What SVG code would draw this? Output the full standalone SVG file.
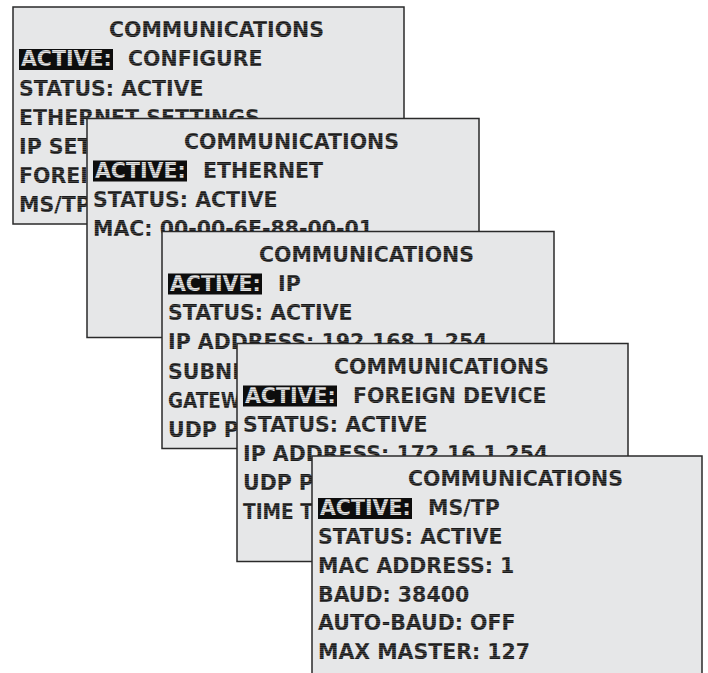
<svg xmlns="http://www.w3.org/2000/svg" width="708" height="673" viewBox="0 0 708 673">
<defs>
<pattern id="scan" patternUnits="userSpaceOnUse" width="4" height="2">
<rect width="4" height="2" fill="#1a1a1a"/>
<rect y="1.25" width="4" height="0.75" fill="#555555"/>
</pattern>
<pattern id="scanLight" patternUnits="userSpaceOnUse" width="4" height="2">
<rect width="4" height="2" fill="#e4e4e4"/>
<rect y="1.25" width="4" height="0.75" fill="#9a9a9a"/>
</pattern>
</defs>
<style>
.panel{fill:#e6e7e8;stroke:#2a2a2a;stroke-width:1.5}
text{font-family:"DejaVu Sans","Liberation Sans",sans-serif;font-weight:bold;font-size:20.5px;fill:url(#scan)}
.hl{fill:#0d0d0d}
text.inv{fill:url(#scanLight)}
</style>
<rect width="708" height="673" fill="#ffffff"/>

<g id="panel-configure">
<rect class="panel" x="13" y="7" width="391" height="217"/>
<text x="109" y="37">COMMUNICATIONS</text>
<rect class="hl" x="19" y="49" width="94" height="21"/>
<text class="inv" x="21" y="66">ACTIVE:</text>
<text x="128" y="66">CONFIGURE</text>
<text x="19" y="95.5">STATUS: ACTIVE</text>
<text x="19" y="124.5">ETHERNET SETTINGS</text>
<text x="19" y="154">IP SET</text>
<text x="19" y="183">FOREI</text>
<text x="19" y="212">MS/TP</text>
</g>

<g id="panel-ethernet">
<rect class="panel" x="87" y="118.5" width="392" height="219"/>
<text x="184" y="148.5">COMMUNICATIONS</text>
<rect class="hl" x="93" y="160.5" width="94" height="21"/>
<text class="inv" x="95" y="177.5">ACTIVE:</text>
<text x="203" y="177.5">ETHERNET</text>
<text x="93" y="207">STATUS: ACTIVE</text>
<text x="93" y="236">MAC: 00-00-6E-88-00-01</text>
</g>

<g id="panel-ip">
<rect class="panel" x="162" y="231.5" width="392" height="217"/>
<text x="259" y="261.5">COMMUNICATIONS</text>
<rect class="hl" x="168" y="273.5" width="94" height="21"/>
<text class="inv" x="170" y="290.5">ACTIVE:</text>
<text x="278" y="290.5">IP</text>
<text x="168" y="320">STATUS: ACTIVE</text>
<text x="168" y="349">IP ADDRESS: 192.168.1.254</text>
<text x="168" y="378.5">SUBNE</text>
<text x="168" y="407.5" textLength="73" lengthAdjust="spacingAndGlyphs">GATEW</text>
<text x="168" y="436.5">UDP P</text>
</g>

<g id="panel-foreign-device">
<rect class="panel" x="237" y="343.5" width="391" height="218"/>
<text x="334" y="373.5">COMMUNICATIONS</text>
<rect class="hl" x="243" y="385.5" width="94" height="21"/>
<text class="inv" x="245" y="402.5">ACTIVE:</text>
<text x="353" y="402.5">FOREIGN DEVICE</text>
<text x="243" y="432">STATUS: ACTIVE</text>
<text x="243" y="461">IP ADDRESS: 172.16.1.254</text>
<text x="243" y="490">UDP P</text>
<text x="243" y="519" textLength="70" lengthAdjust="spacingAndGlyphs">TIME T</text>
</g>

<g id="panel-mstp">
<rect class="panel" x="312" y="456" width="390" height="230"/>
<text x="408" y="486">COMMUNICATIONS</text>
<rect class="hl" x="318" y="498" width="94" height="21"/>
<text class="inv" x="320" y="515">ACTIVE:</text>
<text x="428" y="515">MS/TP</text>
<text x="318" y="544">STATUS: ACTIVE</text>
<text x="318" y="573">MAC ADDRESS: 1</text>
<text x="318" y="601.5">BAUD: 38400</text>
<text x="318" y="630">AUTO-BAUD: OFF</text>
<text x="318" y="658.5">MAX MASTER: 127</text>
</g>
</svg>
